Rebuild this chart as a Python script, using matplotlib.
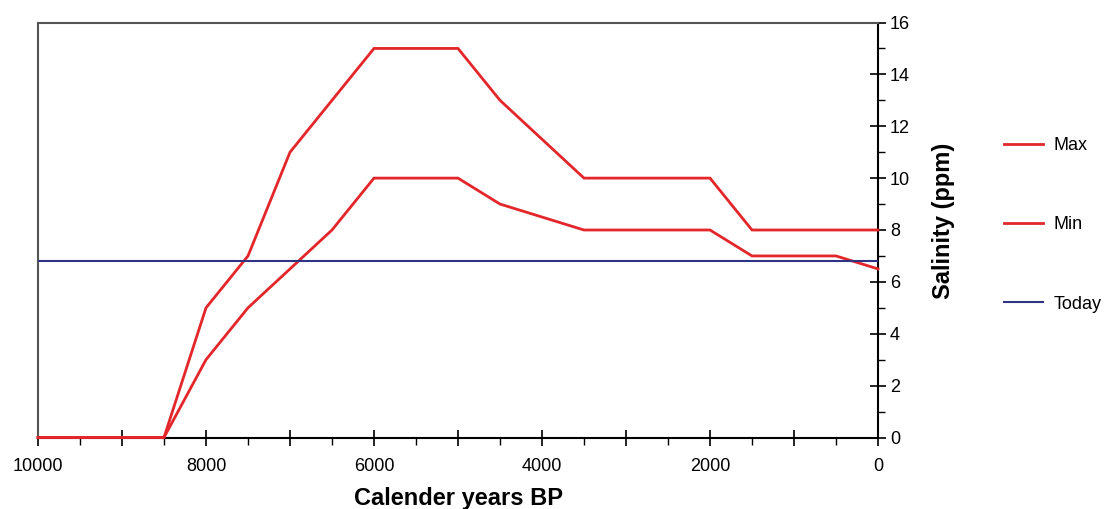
import matplotlib
matplotlib.use("Agg")
import matplotlib.pyplot as plt
from matplotlib.ticker import MultipleLocator, FuncFormatter
from matplotlib.lines import Line2D

plt.rcParams['font.family'] = ['Liberation Sans', 'DejaVu Sans']

max_years = [10000, 8500, 8000, 7500, 7000, 6000, 5000, 4500, 3500, 2000, 1500, 0]
max_vals = [0, 0, 5, 7, 11, 15, 15, 13, 10, 10, 8, 8]
min_years = [10000, 8500, 8000, 7500, 6500, 6000, 5000, 4500, 3500, 2000, 1500, 500, 0]
min_vals = [0, 0, 3, 5, 8, 10, 10, 9, 8, 8, 7, 7, 6.5]
today_years = [10000, 0]
today_vals = [6.8, 6.8]

red = '#e3262a'
navy = '#2e3383'

fig = plt.figure(figsize=(11.08, 5.09), dpi=100)
ax = fig.add_axes([38/1108, 1-437.5/509, 840/1108, 415/509])

ax.plot(max_years, max_vals, color=red, lw=2, solid_joinstyle='miter', clip_on=False, zorder=3)
ax.plot(min_years, min_vals, color=red, lw=2, solid_joinstyle='miter', clip_on=False, zorder=3)
ax.plot(today_years, today_vals, color=navy, lw=1.5, zorder=3)

ax.set_xlim(10000, 0)
ax.set_ylim(0, 16)

ax.yaxis.tick_right()
ax.yaxis.set_label_position('right')
ax.xaxis.set_major_locator(MultipleLocator(1000))
ax.xaxis.set_major_formatter(FuncFormatter(lambda v, p: f"{int(round(v))}" if int(round(v)) % 2000 == 0 else ""))
ax.xaxis.set_minor_locator(MultipleLocator(500))
ax.yaxis.set_major_locator(MultipleLocator(2))
ax.yaxis.set_minor_locator(MultipleLocator(1))
ax.tick_params(axis='both', which='major', direction='inout', length=11, width=1.2, labelsize=13, pad=3)
ax.tick_params(axis='both', which='minor', direction='out', length=5, width=1.0)
ax.tick_params(axis='x', which='major', pad=9)

for s in ['top', 'left']:
    ax.spines[s].set_color('#555555')
    ax.spines[s].set_linewidth(1.5)
for s in ['bottom', 'right']:
    ax.spines[s].set_color('black')
    ax.spines[s].set_linewidth(1.5)

ax.set_xlabel('Calender years BP', fontsize=17, fontweight='bold', labelpad=9)
ax.set_ylabel('Salinity (ppm)', fontsize=17, fontweight='bold', labelpad=16)
ax.yaxis.label.set_y(0.522)

handles = [Line2D([], [], color=red, lw=2), Line2D([], [], color=red, lw=2), Line2D([], [], color=navy, lw=1.5)]
labels = ['Max', 'Min', 'Today']
leg = fig.legend(handles, labels, loc='upper left', bbox_to_anchor=(1004/1108, 1-137/509), frameon=False,
                 fontsize=13, handlelength=2.15, labelspacing=3.45, handletextpad=0.6, borderpad=0, borderaxespad=0)

fig.savefig('out.png', dpi=100)
